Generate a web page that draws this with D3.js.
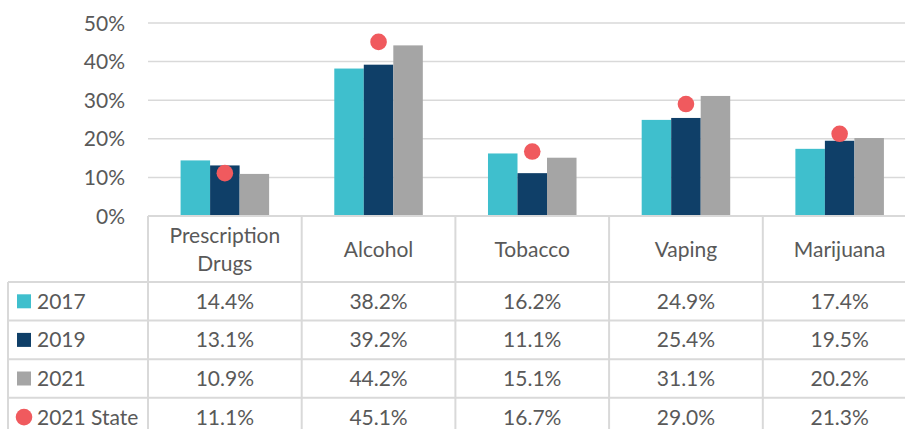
<!DOCTYPE html>
<html><head><meta charset="utf-8">
<script src="https://cdn.jsdelivr.net/npm/d3@7"></script>
<style>body{margin:0;background:#fff;}svg{display:block;}text{font-family:Lato,"Open Sans",sans-serif;fill:#595959;}</style>
</head><body>
<svg id="c" width="905" height="429"></svg>
<script>
const categories = [["Prescription","Drugs"],["Alcohol"],["Tobacco"],["Vaping"],["Marijuana"]];
const catKeys = ["Prescription Drugs","Alcohol","Tobacco","Vaping","Marijuana"];
const seriesNames = ["2017","2019","2021"];
const v2017 = [14.4,38.2,16.2,24.9,17.4];
const v2019 = [13.1,39.2,11.1,25.4,19.5];
const v2021 = [10.9,44.2,15.1,31.1,20.2];
const vState = [11.1,45.1,16.7,29.0,21.3];
const stateName = "2021 State";
const yTicks = [0,10,20,30,40,50];
const colors = {"2017":"#3FBFCD","2019":"#0F3F68","2021":"#A5A5A5"};
const dotColor = "#F05A5E";

(function(){
const svg = d3.select("#c");
const left = 148, colW = 153.7, plotTop = 23, base = 216;
const x = d3.scaleBand().domain(catKeys).range([left, left + colW*5]);
const x1 = d3.scaleBand().domain(seriesNames).range([x.bandwidth()*0.212, x.bandwidth()*0.788]);
const y = d3.scaleLinear().domain([0,50]).range([base, plotTop]);
const grid = "#D9D9D9";

svg.append("g").selectAll("line").data(yTicks.filter(d=>d>0)).join("line")
  .attr("x1", left).attr("x2", 905).attr("y1", d=>y(d)).attr("y2", d=>y(d))
  .attr("stroke", grid).attr("stroke-width", 1.5);
svg.append("g").selectAll("text").data(yTicks).join("text")
  .attr("x", 125).attr("y", d=>y(d)).attr("dy","0.36em").attr("text-anchor","end")
  .attr("font-size", 21).text(d=>d+"%");

const seriesVals = {"2017":v2017,"2019":v2019,"2021":v2021};
seriesNames.forEach(s=>{
  svg.append("g").selectAll("rect").data(seriesVals[s]).join("rect")
    .attr("x",(d,i)=>x(catKeys[i])+x1(s)).attr("width",x1.bandwidth())
    .attr("y",d=>y(d)).attr("height",d=>base-y(d)).attr("fill",colors[s]);
});
svg.append("g").selectAll("circle").data(vState).join("circle")
  .attr("cx",(d,i)=>x(catKeys[i])+x.bandwidth()/2).attr("cy",d=>y(d)).attr("r",8.3).attr("fill",dotColor);

const rowH = 38.6, headBottom = 282, tableLeft = 8;
const rows = [{name:"2017",vals:v2017,type:"rect",c:colors["2017"]},
  {name:"2019",vals:v2019,type:"rect",c:colors["2019"]},
  {name:"2021",vals:v2021,type:"rect",c:colors["2021"]},
  {name:stateName,vals:vState,type:"circle",c:dotColor}];
const tg = svg.append("g");
const rowY = i => headBottom + i*rowH;
tg.append("line").attr("x1",left).attr("x2",905).attr("y1",base).attr("y2",base).attr("stroke",grid).attr("stroke-width",2);
d3.range(rows.length+1).forEach(i=>{
  tg.append("line").attr("x1",tableLeft).attr("x2",905).attr("y1",rowY(i)).attr("y2",rowY(i)).attr("stroke",grid).attr("stroke-width",2);
});
tg.append("line").attr("x1",tableLeft).attr("x2",tableLeft).attr("y1",headBottom).attr("y2",429).attr("stroke",grid).attr("stroke-width",2);
catKeys.forEach(k=>{
  tg.append("line").attr("x1",x(k)).attr("x2",x(k)).attr("y1",base).attr("y2",429).attr("stroke",grid).attr("stroke-width",2);
});
tg.append("line").attr("x1",x.range()[1]).attr("x2",x.range()[1]).attr("y1",base).attr("y2",429).attr("stroke",grid).attr("stroke-width",2);

categories.forEach((lines,i)=>{
  const cx = x(catKeys[i]) + x.bandwidth()/2;
  const cy = (base+headBottom)/2;
  const lh = 28;
  lines.forEach((t,j)=>{
    tg.append("text").attr("x",cx).attr("y",cy + (j-(lines.length-1)/2)*lh).attr("dy","0.36em")
      .attr("text-anchor","middle").attr("font-size",21).text(t);
  });
});
rows.forEach((r,i)=>{
  const cy = rowY(i)+rowH/2;
  if(r.type==="rect") tg.append("rect").attr("x",17).attr("y",cy-7).attr("width",14).attr("height",14).attr("fill",r.c);
  else tg.append("circle").attr("cx",24).attr("cy",cy).attr("r",8.3).attr("fill",r.c);
  tg.append("text").attr("x",37).attr("y",cy).attr("dy","0.36em").attr("font-size",21).text(r.name);
  r.vals.forEach((v,j)=>{
    tg.append("text").attr("x",x(catKeys[j])+x.bandwidth()/2).attr("y",cy).attr("dy","0.36em")
      .attr("text-anchor","middle").attr("font-size",21).text(v.toFixed(1)+"%");
  });
});
})();
</script>
</body></html>
